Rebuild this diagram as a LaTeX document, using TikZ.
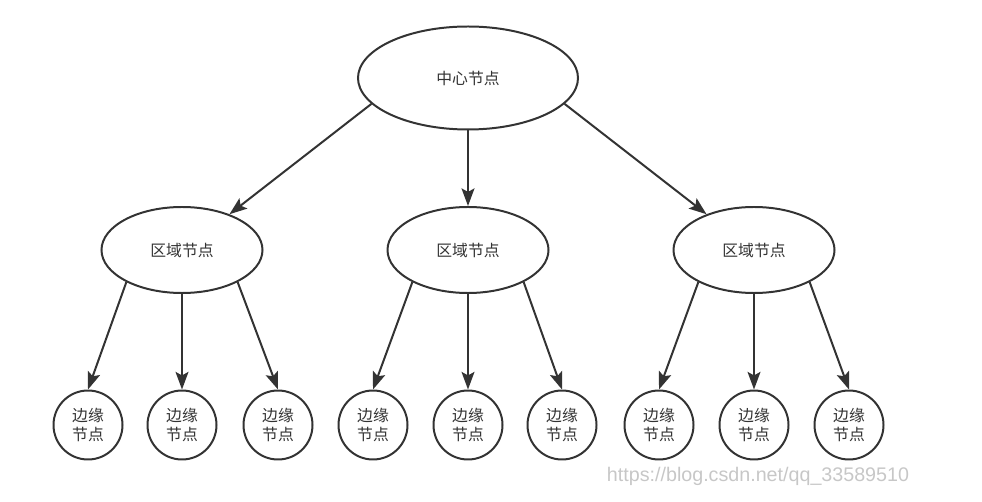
\documentclass[tikz,border=0pt]{standalone}
\usepackage{fontspec}
\newfontfamily\cjk{Noto Sans CJK SC}
\newfontfamily\wmfont{Liberation Sans}
\usetikzlibrary{shapes,arrows.meta}

\begin{document}
\begin{tikzpicture}[
        x=0.03cm, y=0.03cm,
        line width=1.7pt, draw=black!80,
        hub/.style={ellipse, draw=black!80, minimum width=6.6cm, minimum height=3.09cm, inner sep=0pt, font=\cjk\fontsize{13.5}{16}\selectfont, text=black!80},
        region/.style={ellipse, draw=black!80, minimum width=4.83cm, minimum height=2.58cm, inner sep=0pt, font=\cjk\fontsize{13.5}{16}\selectfont, text=black!80},
        edge/.style={circle, draw=black!80, minimum size=2.07cm, inner sep=0pt, align=center, font=\cjk\fontsize{13.5}{16.5}\selectfont, text=black!80},
        link/.style={-{Stealth[length=15pt, width=11pt, inset=3pt]}, draw=black!80, line width=1.7pt}
    ]
        \useasboundingbox (0,0) rectangle (982,501);

        \node[hub] (center) at (468,423) {中心节点};

        \node[region] (r1) at (182,251) {区域节点};
        \node[region] (r2) at (468,251) {区域节点};
        \node[region] (r3) at (754,251) {区域节点};

        \node[edge] (e1) at (88,76) {边缘\\节点};
        \node[edge] (e2) at (182,76) {边缘\\节点};
        \node[edge] (e3) at (278,76) {边缘\\节点};
        \node[edge] (e4) at (373,76) {边缘\\节点};
        \node[edge] (e5) at (468,76) {边缘\\节点};
        \node[edge] (e6) at (562,76) {边缘\\节点};
        \node[edge] (e7) at (659,76) {边缘\\节点};
        \node[edge] (e8) at (754,76) {边缘\\节点};
        \node[edge] (e9) at (849,76) {边缘\\节点};

        \draw[link] (center.195) -- (r1.37);
        \draw[link] (center.south) -- (r2.north);
        \draw[link] (center.345) -- (r3.143);

        \draw[link] (r1.210) -- (e1.north);
        \draw[link] (r1.south) -- (e2.north);
        \draw[link] (r1.330) -- (e3.north);
        \draw[link] (r2.210) -- (e4.north);
        \draw[link] (r2.south) -- (e5.north);
        \draw[link] (r2.330) -- (e6.north);
        \draw[link] (r3.210) -- (e7.north);
        \draw[link] (r3.south) -- (e8.north);
        \draw[link] (r3.330) -- (e9.north);

        \node[font=\wmfont\fontsize{16.8}{20}\selectfont, text=black!22] (mark) at (758,25) {https://blog.csdn.net/qq\_33589510};
    \end{tikzpicture}
\end{document}
